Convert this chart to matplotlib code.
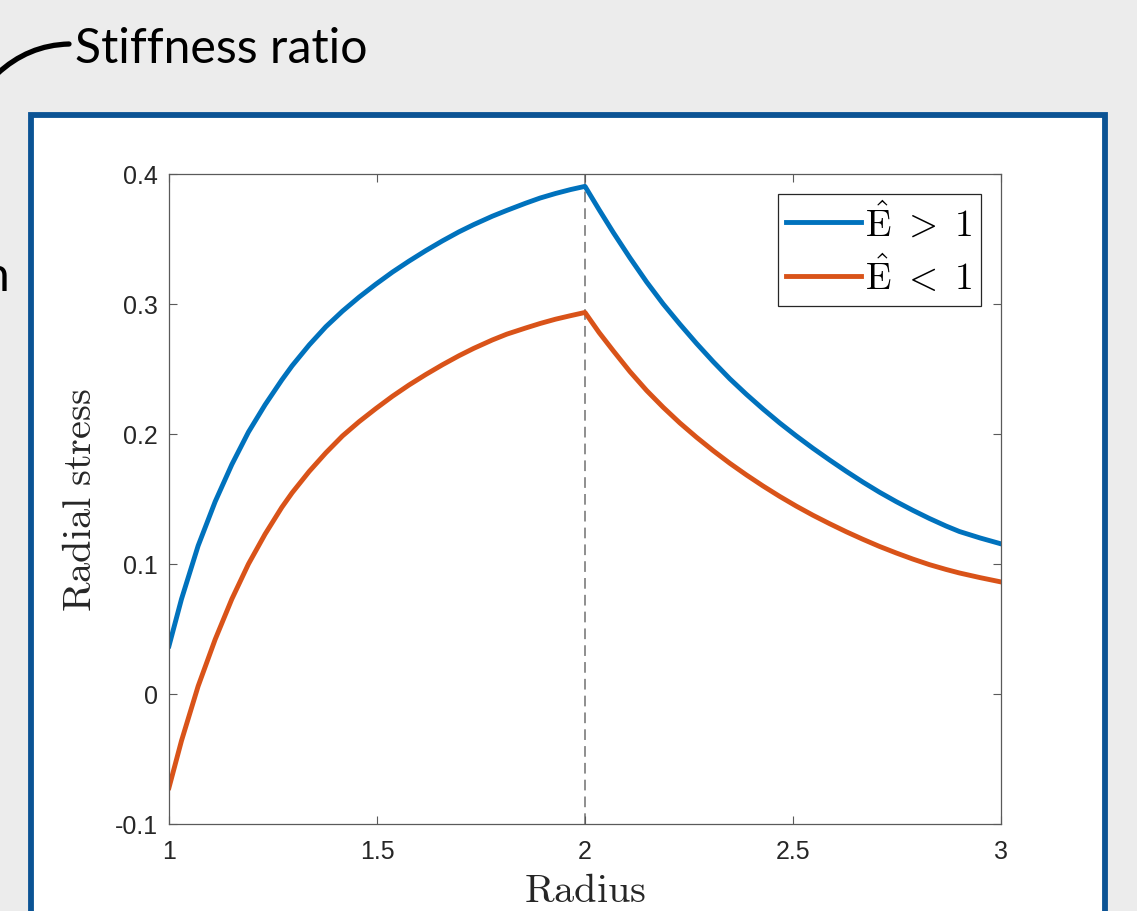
import matplotlib
matplotlib.use("Agg")
import matplotlib.pyplot as plt
import matplotlib.patches as mpatches
from matplotlib.path import Path
import numpy as np

### data

# inner region (r from 1 to 2)
radius_in = [1.0, 1.030, 1.070, 1.111, 1.151, 1.191, 1.231, 1.271, 1.296, 1.337,
             1.377, 1.417, 1.457, 1.497, 1.537, 1.577, 1.617, 1.657, 1.697, 1.732,
             1.777, 1.812, 1.857, 1.892, 1.929, 1.965, 2.0]
stiff_in = [0.037, 0.073, 0.114, 0.148, 0.1765, 0.2015, 0.2225, 0.2415, 0.2525, 0.2685,
            0.2825, 0.2945, 0.3053, 0.3152, 0.3245, 0.333, 0.341, 0.3485, 0.3555, 0.361,
            0.3675, 0.372, 0.3775, 0.3815, 0.385, 0.388, 0.3905]
soft_in = [-0.072, -0.036, 0.006, 0.042, 0.073, 0.100, 0.123, 0.1435, 0.1548, 0.1712,
           0.1855, 0.1985, 0.2095, 0.2195, 0.229, 0.2377, 0.2457, 0.2532, 0.2602, 0.2658,
           0.2723, 0.2768, 0.2815, 0.285, 0.2883, 0.291, 0.2935]

# outer region (r from 2 to 3)
radius_out = [2.0, 2.034, 2.068, 2.108, 2.148, 2.188, 2.228, 2.268, 2.308, 2.348,
              2.388, 2.428, 2.468, 2.508, 2.548, 2.588, 2.628, 2.668, 2.708, 2.748,
              2.788, 2.828, 2.868, 2.9, 2.95, 3.0]
stiff_out = [0.3905, 0.3725, 0.355, 0.3355, 0.317, 0.300, 0.2845, 0.2697, 0.2557, 0.2425,
             0.2305, 0.2192, 0.2085, 0.1985, 0.189, 0.180, 0.1713, 0.163, 0.1552, 0.148,
             0.1413, 0.135, 0.1292, 0.125, 0.120, 0.1155]
soft_out = [0.2935, 0.278, 0.264, 0.248, 0.2335, 0.2205, 0.2085, 0.1975, 0.1872, 0.1775,
            0.1685, 0.160, 0.152, 0.1445, 0.1375, 0.131, 0.1248, 0.119, 0.1135, 0.1085,
            0.1038, 0.0995, 0.0958, 0.0931, 0.0895, 0.0862]

interface_r = 2.0
xticks = [1, 1.5, 2, 2.5, 3]
xticklabels = ['1', '1.5', '2', '2.5', '3']
yticks = [-0.1, 0, 0.1, 0.2, 0.3, 0.4]
yticklabels = ['-0.1', '0', '0.1', '0.2', '0.3', '0.4']
labels = [r'$\hat{\mathrm{E}}\ >\ 1$', r'$\hat{\mathrm{E}}\ <\ 1$']

W, H = 1137, 912

#pixel position (from top-left) to figure fraction
def fx(x):
    return x / W

def fy(y):
    return (H - y) / H

plt.rcParams['mathtext.fontset'] = 'cm'

fig = plt.figure(figsize=(W / 100, H / 100), dpi=100, facecolor='#ececec')

#slide frame: white panel with a blue border, cut at the bottom
frame = mpatches.Rectangle((fx(30.5), fy(960)), fx(1104.5) - fx(30.5), fy(116) - fy(960),
                           transform=fig.transFigure, facecolor='white',
                           edgecolor='#0b5394', linewidth=4.2, zorder=-5)
fig.patches.append(frame)

#callout text and its connector curve
title = fig.text(fx(75), fy(63), 'Stiffness ratio', fontsize=34, family='Lato',
                 color='black', ha='left', va='baseline')
fig.canvas.draw()
bb = title.get_window_extent()
title.set_fontsize(34 * 293 / bb.width)

verts = [(fx(-3), fy(75)), (fx(28), fy(46)), (fx(69), fy(45))]
curve = mpatches.PathPatch(Path(verts, [Path.MOVETO, Path.CURVE3, Path.CURVE3]),
                           transform=fig.transFigure, facecolor='none',
                           edgecolor='black', linewidth=3.8, capstyle='round')
fig.patches.append(curve)

#clipped piece of text on the left edge
fig.text(fx(9), fy(291), 'n', fontsize=title.get_fontsize(), family='Lato',
         ha='right', va='baseline')

### the plot
ax = fig.add_axes([fx(169), fy(825), fx(1001) - fx(169), fy(175) - fy(825)])
ax.set_zorder(2)

r_all = radius_in + radius_out[1:]
ax.plot(r_all, stiff_in + stiff_out[1:], color='#0072BD', linewidth=3.5,
        label=labels[0], solid_joinstyle='round')
ax.plot(r_all, soft_in + soft_out[1:], color='#D95319', linewidth=3.5,
        label=labels[1], solid_joinstyle='round')
ax.axvline(interface_r, color='#707070', linewidth=1.1, linestyle=(0, (7, 4)), zorder=1)

ax.set_xlim(1, 3)
ax.set_ylim(-0.1, 0.4)
ax.set_xticks(xticks)
ax.set_xticklabels(xticklabels)
ax.set_yticks(yticks)
ax.set_yticklabels(yticklabels)

for s in ax.spines.values():
    s.set_color('#5a5a5a')
    s.set_linewidth(0.9)
ax.tick_params(direction='in', top=True, right=True, length=6, width=0.8,
               color='#5a5a5a', labelsize=18, labelcolor='#262626')
ax.tick_params(axis='x', pad=11)
ax.tick_params(axis='y', pad=8)
for t in ax.get_xticklabels() + ax.get_yticklabels():
    t.set_family('Liberation Sans')

ax.set_xlabel(r'$\mathrm{Radius}$', fontsize=29, color='#262626')
ax.set_ylabel(r'$\mathrm{Radial\ stress}$', fontsize=29, color='#262626')
ax.xaxis.set_label_coords(0.5, (825 - 871) / 650)
ax.yaxis.set_label_coords((100 - 169) / 832, 0.5)

leg = ax.legend(loc='upper right', bbox_to_anchor=((981 - 169) / 832, (825 - 195) / 650),
                borderaxespad=0, fontsize=27, fancybox=False, framealpha=1,
                edgecolor='#262626', handlelength=2.0, handletextpad=0.1,
                borderpad=0.22, labelspacing=0.3)
leg.get_frame().set_linewidth(0.9)

fig.savefig('out.png', dpi=100, facecolor=fig.get_facecolor())
